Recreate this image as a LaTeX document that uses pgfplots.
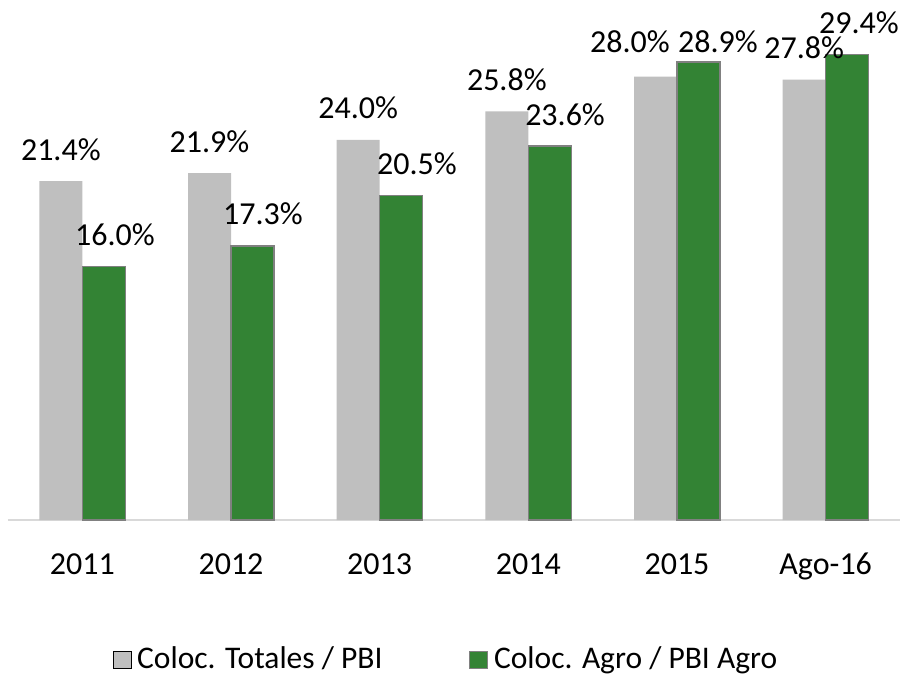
\documentclass[border=0pt]{standalone}
\usepackage{pgfplots}
\pgfplotsset{compat=1.18}
\usepackage{fontspec}
\setmainfont{Carlito}
\definecolor{bargray}{RGB}{191,191,191}
\definecolor{bargreen}{RGB}{51,131,52}
\definecolor{edgegray}{RGB}{128,128,128}
\definecolor{axisgray}{RGB}{217,217,217}
\begin{document}
\begin{tikzpicture}
\begin{axis}[
  scale only axis,
  width=892pt, height=520pt,
  xmin=-0.5, xmax=5.5,
  ymin=0, ymax=32.83,
  axis x line*=bottom,
  axis y line=none,
  x axis line style={draw=axisgray, line width=1.5pt, -},
  xtick={0,1,2,3,4,5},
  xticklabels={2011,2012,2013,2014,2015,Ago-16},
  major tick length=0pt,
  xticklabel style={font=\fontsize{32}{38}\selectfont, anchor=base, yshift=-54pt, inner sep=0pt},
  bar width=0.289,
  clip=false,
  legend columns=2,
  legend style={draw=none, fill=none, at={(0.4899,-0.266)}, anchor=center,
    font=\fontsize{31.5}{38}\selectfont,
    nodes={inner sep=0pt},
    /tikz/every odd column/.style={column sep=6pt},
    /tikz/every even column/.style={column sep=86pt}},
  legend image code/.code={\draw[#1] (0pt,-10pt) rectangle (18pt,7pt);},
]
\addplot[ybar, fill=bargray, draw=none, bar shift=-0.1445] coordinates {
  (0,21.4) (1,21.9) (2,24.0) (3,25.8) (4,28.0) (5,27.8)
};
\addlegendentry{Coloc. Totales / PBI}
\addplot[ybar, fill=bargreen, draw=edgegray, line width=1.5pt, bar shift=0.1445] coordinates {
  (0,16.0) (1,17.3) (2,20.5) (3,23.6) (4,28.9) (5,29.4)
};
\addlegendentry{Coloc. Agro / PBI Agro}
% value labels (positions as in the reference)
\addplot[draw=none, mark=none, forget plot, point meta=explicit symbolic,
  nodes near coords,
  every node near coord/.append style={font=\fontsize{32}{38}\selectfont, anchor=base, inner sep=0pt, text=black}]
  coordinates {
  (-0.1445,22.726) [21.4\%]
  (0.8555,23.226) [21.9\%]
  (1.8555,25.326) [24.0\%]
  (2.8555,27.126) [25.8\%]
  (3.684,29.545) [28.0\%]
  (4.8555,29.126) [27.8\%]
};
\addplot[draw=none, mark=none, forget plot, point meta=explicit symbolic,
  nodes near coords,
  every node near coord/.append style={font=\fontsize{32}{38}\selectfont, anchor=base, inner sep=0pt, text=black}]
  coordinates {
  (0.2197,17.326) [16.0\%]
  (1.215,18.626) [17.3\%]
  (2.251,21.826) [20.5\%]
  (3.247,24.926) [23.6\%]
  (4.276,29.545) [28.9\%]
  (5.224,30.726) [29.4\%]
};
\end{axis}
\path[use as bounding box] ([xshift=-8pt,yshift=-156pt]current axis.south west) rectangle ([xshift=2pt]current axis.north east);
\end{tikzpicture}
\end{document}
